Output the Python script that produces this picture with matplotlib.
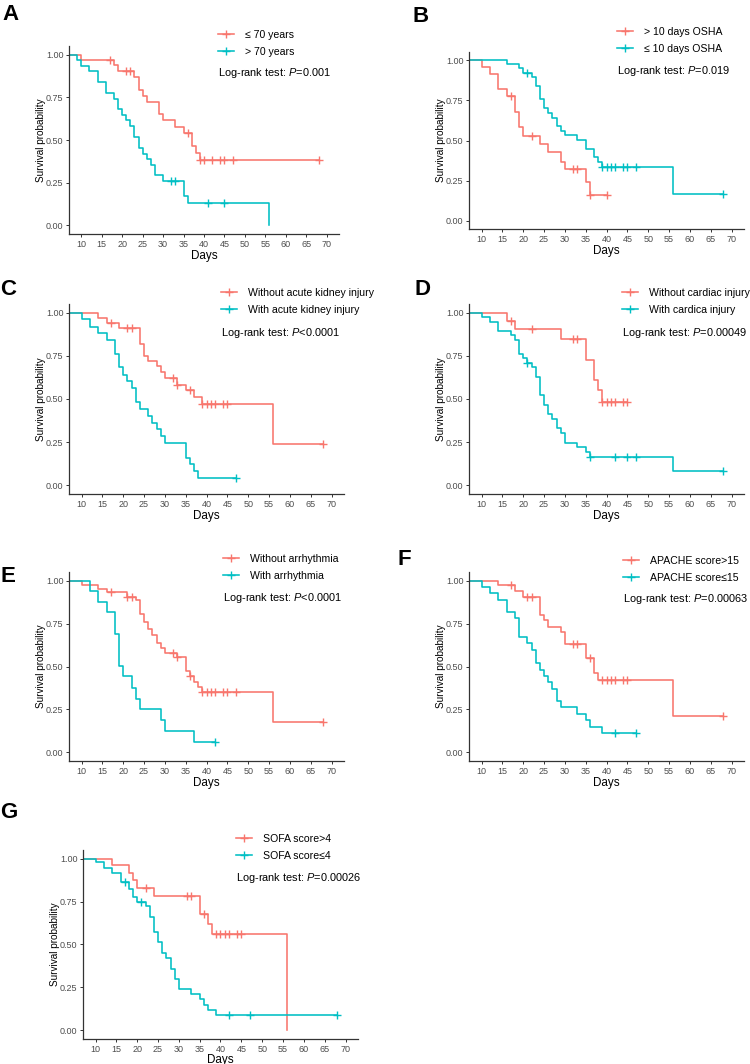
import numpy as np
import matplotlib
matplotlib.use('Agg')
import matplotlib.pyplot as plt
from matplotlib.lines import Line2D

plt.rcParams['font.family'] = ['Liberation Sans', 'DejaVu Sans']
plt.rcParams['mathtext.fontset'] = 'custom'
plt.rcParams['mathtext.rm'] = 'Liberation Sans'
plt.rcParams['mathtext.it'] = 'Liberation Sans:italic'

RED = '#F8766D'
CYAN = '#00BFC4'

# ---- data (event times, survival after event, censor times) ----
A_red_t = [10, 18, 19, 23, 24, 25, 26, 29, 30, 33, 35, 37, 38, 39]
A_red_s = [0.969, 0.94, 0.906, 0.87, 0.795, 0.758, 0.72, 0.654, 0.615, 0.578, 0.539, 0.467, 0.424, 0.383]
A_red_c = [17, 21, 22, 36, 39, 40, 42, 44, 45, 47, 68]
A_cyan_t = [9, 10, 12, 14, 16, 18, 19, 20, 21, 22, 23, 24, 25, 26, 27, 28, 30, 35, 36, 56]
A_cyan_s = [0.97, 0.935, 0.904, 0.84, 0.775, 0.742, 0.68, 0.646, 0.615, 0.584, 0.518, 0.453, 0.42,
            0.389, 0.354, 0.293, 0.258, 0.174, 0.131, 0.0]
A_cyan_c = [32, 33, 41, 45]

B_red_t = [10, 12, 14, 16, 18, 19, 20, 24, 26, 29, 30, 35, 36]
B_red_s = [0.956, 0.913, 0.822, 0.776, 0.676, 0.585, 0.531, 0.479, 0.427, 0.369, 0.322, 0.243, 0.16]
B_red_c = [17, 22, 32, 33, 36, 40]
B_cyan_t = [16, 19, 20, 22, 23, 24, 25, 26, 27, 28, 29, 30, 33, 35, 37, 38, 39, 56]
B_cyan_s = [0.975, 0.948, 0.921, 0.894, 0.838, 0.755, 0.703, 0.672, 0.641, 0.589, 0.562, 0.535,
            0.502, 0.448, 0.396, 0.365, 0.334, 0.168]
B_cyan_c = [21, 39, 40, 41, 42, 44, 45, 47, 68]

C_red_t = [14, 16, 19, 24, 25, 26, 28, 29, 30, 33, 35, 37, 39, 56]
C_red_s = [0.969, 0.942, 0.911, 0.816, 0.751, 0.72, 0.689, 0.658, 0.621, 0.583, 0.55, 0.511, 0.47, 0.237]
C_red_c = [17, 21, 22, 32, 33, 36, 39, 40, 41, 42, 44, 45, 68]
C_cyan_t = [10, 12, 14, 16, 18, 19, 20, 21, 22, 23, 24, 26, 27, 28, 29, 30, 35, 36, 37, 38]
C_cyan_s = [0.961, 0.918, 0.88, 0.841, 0.761, 0.683, 0.641, 0.602, 0.563, 0.481, 0.443, 0.404,
            0.363, 0.324, 0.285, 0.243, 0.161, 0.122, 0.082, 0.043]
C_cyan_c = [47]

D_red_t = [16, 18, 29, 35, 37, 38, 39]
D_red_s = [0.953, 0.903, 0.85, 0.728, 0.608, 0.55, 0.483]
D_red_c = [17, 22, 32, 33, 39, 40, 41, 42, 44, 45]
D_cyan_t = [10, 12, 14, 17, 18, 19, 20, 21, 22, 23, 24, 25, 26, 27, 28, 29, 30, 33, 35, 36, 56]
D_cyan_s = [0.975, 0.948, 0.895, 0.868, 0.84, 0.763, 0.737, 0.709, 0.685, 0.627, 0.522, 0.468,
            0.414, 0.386, 0.33, 0.303, 0.247, 0.221, 0.194, 0.165, 0.083]
D_cyan_c = [21, 36, 42, 45, 47, 68]

E_red_t = [10, 14, 16, 21, 23, 24, 25, 26, 27, 28, 29, 30, 33, 35, 36, 37, 38, 39, 56]
E_red_s = [0.977, 0.951, 0.936, 0.905, 0.885, 0.807, 0.759, 0.72, 0.681, 0.636, 0.607, 0.578,
           0.553, 0.475, 0.442, 0.412, 0.383, 0.35, 0.175]
E_red_c = [17, 21, 22, 32, 33, 36, 39, 40, 41, 42, 44, 45, 47, 68]
E_cyan_t = [12, 14, 16, 18, 19, 20, 22, 23, 24, 29, 30, 37]
E_cyan_s = [0.938, 0.874, 0.815, 0.689, 0.504, 0.442, 0.374, 0.311, 0.251, 0.189, 0.126, 0.062]
E_cyan_c = [42]

F_red_t = [14, 18, 20, 24, 25, 26, 29, 30, 35, 37, 38, 56]
F_red_s = [0.973, 0.942, 0.906, 0.801, 0.768, 0.731, 0.698, 0.63, 0.55, 0.462, 0.419, 0.209]
F_red_c = [17, 21, 22, 32, 33, 36, 39, 40, 41, 42, 44, 45, 68]
F_cyan_t = [10, 12, 14, 16, 18, 19, 21, 22, 23, 24, 25, 26, 27, 28, 29, 33, 35, 36, 39]
F_cyan_s = [0.963, 0.926, 0.889, 0.817, 0.78, 0.669, 0.634, 0.595, 0.52, 0.481, 0.446, 0.409,
            0.37, 0.298, 0.263, 0.224, 0.187, 0.15, 0.111]
F_cyan_c = [42, 47]

G_red_t = [14, 18, 19, 20, 24, 35, 37, 38, 56]
G_red_s = [0.961, 0.918, 0.875, 0.828, 0.781, 0.676, 0.619, 0.563, 0.0]
G_red_c = [22, 32, 33, 36, 39, 40, 41, 42, 44, 45]
G_cyan_t = [10, 12, 14, 16, 18, 19, 20, 22, 23, 24, 25, 26, 27, 28, 29, 30, 33, 35, 36, 37, 39]
G_cyan_s = [0.98, 0.943, 0.918, 0.863, 0.824, 0.777, 0.748, 0.723, 0.658, 0.57, 0.512, 0.45,
            0.42, 0.357, 0.299, 0.24, 0.211, 0.18, 0.15, 0.121, 0.088]
G_cyan_c = [17, 21, 42, 47, 68]

PANELS = ['A', 'B', 'C', 'D', 'E', 'F', 'G']
RED_LABELS = ['\u2264 70 years', '> 10 days OSHA', 'Without acute kidney injury',
              'Without cardiac injury', 'Without arrhythmia', 'APACHE score>15', 'SOFA score>4']
CYAN_LABELS = ['> 70 years', '\u2264 10 days OSHA', 'With acute kidney injury',
               'With cardica injury', 'With arrhythmia', 'APACHE score\u226415', 'SOFA score\u22644']
P_TEXT = ['=0.001', '=0.019', '<0.0001', '=0.00049', '<0.0001', '=0.00063', '=0.00026']
X_TICKS = list(range(10, 75, 5))
Y_TICKS = [0.0, 0.25, 0.5, 0.75, 1.0]

W, H = 750, 1064
# axes box in pixels: left, top, right, bottom
BOXES = {'A': (69, 46, 339, 234), 'B': (469, 52, 744, 229),
         'C': (69, 304, 344, 494), 'D': (469, 304, 744, 494),
         'E': (69, 572, 344, 761), 'F': (469, 572, 744, 761),
         'G': (83, 850, 358, 1039)}
# legend: handle left x, first row y, log-rank row y
LEGEND_POS = {'A': (218, 36, 73), 'B': (617, 33, 71), 'C': (221, 294, 333),
              'D': (622, 294, 333), 'E': (223, 560, 598), 'F': (623, 562, 599),
              'G': (236, 840, 878)}
LETTER_POS = {'A': (2, 4), 'B': (412, 6), 'C': (0, 279), 'D': (415, 279),
              'E': (0, 566), 'F': (398, 549), 'G': (0, 802)}
DAYS_GAP = {'G': 14.5}


def draw_km(ax, t, s, c, color):
    t = np.asarray(t, float)
    s = np.asarray(s, float)
    end = max(t[-1], max(c) if c else 0)
    xs = np.r_[0, t, end]
    ys = np.r_[1, s, s[-1]]
    ax.step(xs, ys, where='post', color=color, lw=1.15)
    if c:
        idx = np.searchsorted(t, c, side='right')
        cy = np.r_[1, s][idx]
        ax.plot(c, cy, '+', color=color, ms=5.5, mew=1.0, ls='none')


fig = plt.figure(figsize=(W / 100, H / 100), dpi=100)

for i, p in enumerate(PANELS):
    l, t, r, b = BOXES[p]
    ax = fig.add_axes([l / W, 1 - b / H, (r - l) / W, (b - t) / H])
    g = globals()
    draw_km(ax, g[p + '_red_t'], g[p + '_red_s'], g[p + '_red_c'], RED)
    draw_km(ax, g[p + '_cyan_t'], g[p + '_cyan_s'], g[p + '_cyan_c'], CYAN)

    ax.set_xlim(7, 73)
    ax.set_ylim(-0.05, 1.05)
    ax.set_xticks(X_TICKS)
    ax.set_yticks(Y_TICKS)
    ax.set_yticklabels(['%.2f' % v for v in Y_TICKS])
    for side in ['top', 'right']:
        ax.spines[side].set_visible(False)
    for side in ['left', 'bottom']:
        ax.spines[side].set_color('#333333')
        ax.spines[side].set_linewidth(0.9)
    ax.tick_params(labelsize=6.5, colors='#333333', labelcolor='#4d4d4d',
                   length=2.5, width=0.7, pad=1.5)
    ax.set_xlabel('Days', fontsize=8.4)
    ax.xaxis.set_label_coords(0.5, -DAYS_GAP.get(p, 16.0) / (b - t))
    ax.set_ylabel('Survival probability', fontsize=7.2)
    ax.yaxis.set_label_coords(-23.0 / (r - l), 0.5)

    hx, ry, ly = LEGEND_POS[p]
    handles = [Line2D([], [], color=RED, marker='+', ms=6, mew=1.0, lw=1.15),
               Line2D([], [], color=CYAN, marker='+', ms=6, mew=1.0, lw=1.15)]
    fig.legend(handles, [RED_LABELS[i], CYAN_LABELS[i]], loc='upper left',
               bbox_to_anchor=(hx / W, 1 - (ry - 6) / H), frameon=False,
               fontsize=7.6, handlelength=1.5, handletextpad=1.1,
               labelspacing=0.62, borderpad=0, borderaxespad=0)
    fig.text(hx / W, 1 - ly / H, 'Log-rank test: $\\mathit{P}$' + P_TEXT[i],
             fontsize=7.9, va='center', ha='left')

    lx, lyy = LETTER_POS[p]
    fig.text(lx / W, 1 - lyy / H, p, fontsize=16, fontweight='bold',
             va='top', ha='left')

plt.savefig('out.png', dpi=100)
plt.close()
